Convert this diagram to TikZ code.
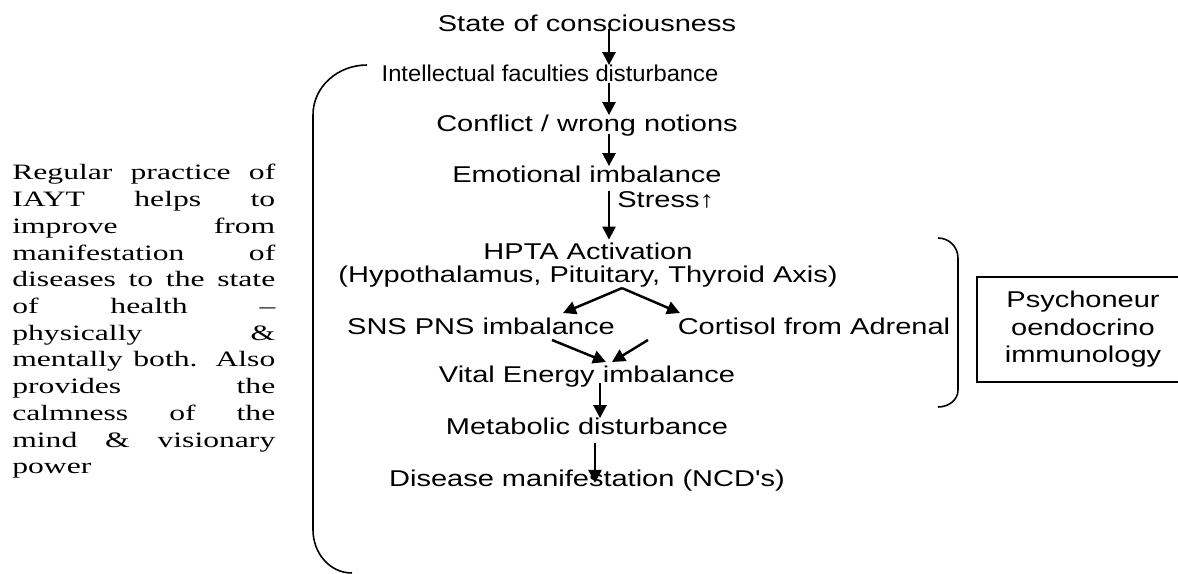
\documentclass[tikz,border=0pt]{standalone}
\usepackage{fontspec}
\setmainfont{Liberation Serif}[FakeStretch=1.44]
\newfontfamily\arialsans{Liberation Sans}[FakeStretch=1.27]
\newfontfamily\narrowsans{Liberation Sans}[FakeStretch=1.04]
\usepackage{tikz}
\usetikzlibrary{arrows.meta, calc}
\newcommand{\jline}[1]{\makebox[\linewidth][s]{#1}}

\begin{document}
\begin{tikzpicture}[x=0.02cm, y=-0.02cm,
  lbl/.style={font=\arialsans\fontsize{13}{15}\selectfont, inner sep=0pt, anchor=base},
  arr/.style={-{Triangle[length=7.4pt, width=7.4pt]}, line width=1.4pt}]
  \useasboundingbox (0,0) rectangle (1178,574);
  \clip (0,0) rectangle (1178,574);

  % Note on the left
  \node[anchor=base west, inner sep=0pt] (note) at (12,180)
    {\parbox[t]{5.26cm}{\fontsize{12.5}{15.2}\selectfont
      \jline{Regular practice of}\\
      \jline{IAYT helps to}\\
      \jline{improve from}\\
      \jline{manifestation of}\\
      \jline{diseases to the state}\\
      \jline{of health –}\\
      \jline{physically \&}\\
      \jline{mentally both. Also}\\
      \jline{provides the}\\
      \jline{calmness of the}\\
      \jline{mind \& visionary}\\
      power}};

  % Chain of states
  \node[lbl] (state) at (587,32) {State of consciousness};
  \node[lbl, font=\narrowsans\fontsize{13}{15}\selectfont] (intel) at (550,82)
    {Intellectual faculties disturbance};
  \node[lbl] (conflict) at (587,132) {Conflict / wrong notions};
  \node[lbl] (emotion) at (587,183) {Emotional imbalance};
  \node[lbl, anchor=base west] (stress) at (617,208) {Stress↑};
  \node[lbl] (hpta) at (588,260) {HPTA Activation};
  \node[lbl] (axis) at (588,283) {(Hypothalamus, Pituitary, Thyroid Axis)};
  \node[lbl] (sns) at (481,335) {SNS PNS imbalance};
  \node[lbl] (cortisol) at (814,335) {Cortisol from Adrenal};
  \node[lbl] (vital) at (587,383) {Vital Energy imbalance};
  \node[lbl] (metabolic) at (587,435) {Metabolic disturbance};
  \node[lbl] (disease) at (587,487) {Disease manifestation (NCD's)};

  % Arrow lines
  \coordinate (ax) at (609,0);
  \coordinate (ax2) at (600,0);
  \coordinate (ax3) at (595,0);
  \coordinate (fork) at (622,0);
  \coordinate (forkl) at (563,313);
  \coordinate (forkr) at (680,313);
  \coordinate (joinl) at (552,340);
  \coordinate (joinr) at (648,340);
  \coordinate (tipl) at (606,362);
  \coordinate (tipr) at (612,362);

  \draw[arr, shorten <=-2pt] (state.south -| ax) -- (intel.north -| ax);
  \draw[arr] (intel.south -| ax) -- (conflict.north -| ax);
  \draw[arr, shorten <=-2pt] (conflict.south -| ax) -- (emotion.north -| ax);
  \draw[arr, shorten <=4pt, shorten >=2pt] (emotion.south -| ax) -- (hpta.north -| ax);
  \draw[arr] (axis.south -| fork) -- (forkl);
  \draw[arr] (axis.south -| fork) -- (forkr);
  \draw[arr] (joinl) -- (tipl);
  \draw[arr] (joinr) -- (tipr);
  \draw[arr] (vital.base -| ax2) -- (metabolic.north -| ax2);
  \draw[arr, shorten <=4.5pt, shorten >=2.3pt] (metabolic.south -| ax3) -- (disease.base -| ax3);

  % Big bracket on the left
  \draw[line width=0.9pt] (367,65) to[out=180, in=90] (313,115)
    -- (313,530) to[out=-90, in=180] (352,573);

  % Bracket round the endocrine part
  \draw[line width=0.9pt] (938,238) to[out=0, in=90] (958,258)
    -- (958,390) to[out=-90, in=0] (938,407);

  % Box on the right
  \node[lbl, draw, line width=1.1pt, anchor=center, align=center,
    minimum width=4.24cm, minimum height=2.1cm,
    font=\arialsans\fontsize{13}{15.6}\selectfont] (pni) at (1083,329.5)
    {Psychoneur\\oendocrino\\immunology};
\end{tikzpicture}
\end{document}
